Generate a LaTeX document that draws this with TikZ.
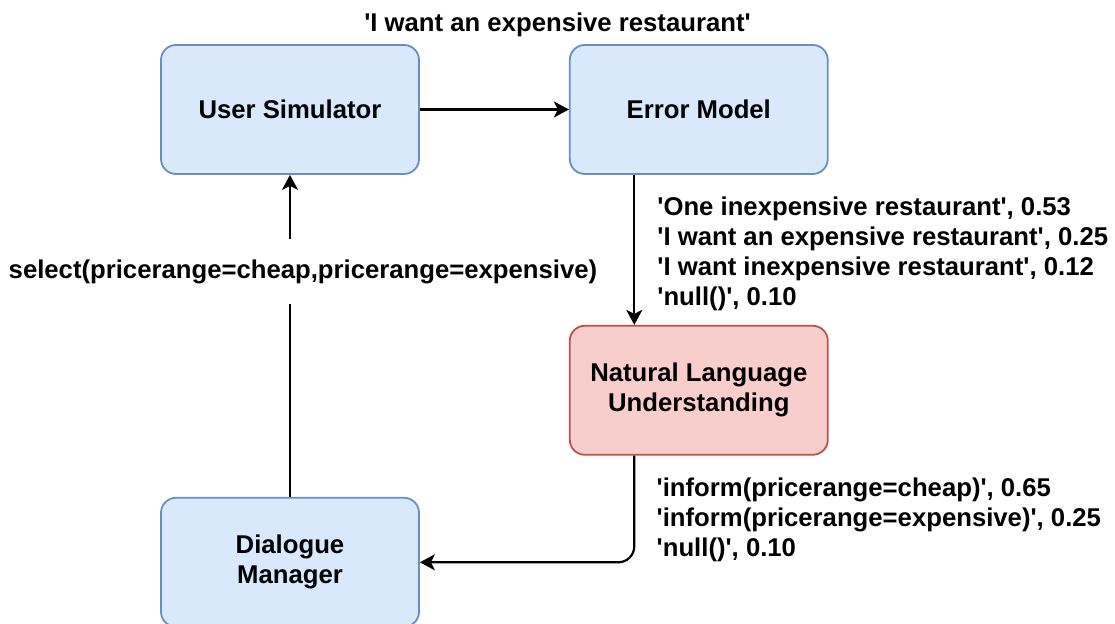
\documentclass[tikz,border=0pt]{standalone}
\usepackage{fontspec}
\setmainfont{Liberation Sans}
\usetikzlibrary{positioning,arrows.meta}
\definecolor{BoxFill}{HTML}{DAE8FC}
\definecolor{BoxDraw}{HTML}{6C8EBF}
\definecolor{NluFill}{HTML}{F8CECC}
\definecolor{NluDraw}{HTML}{B85450}
\newcommand{\sqt}{\textquotesingle}

\begin{document}
\begin{tikzpicture}[font = \fontsize{12.85}{15}\selectfont\bfseries]
        \tikzset{
            BoxStyle/.style = {
                shape = rectangle,
                rounded corners = 7.5pt,
                minimum width = 129pt,
                minimum height = 64.5pt,
                align = center,
                line width = 0.9pt,
                draw = BoxDraw,
                fill = BoxFill},
            EdgeStyle/.style = {
                line width = 1.1pt,
                -{Stealth[length = 7.5pt, width = 8pt, inset = 2pt]}},
            LabelStyle/.style = {
                inner sep = 0pt,
                align = left}
                }
    \useasboundingbox (-145pt,-257.25pt) rectangle (412.5pt,54.75pt);
    \node[BoxStyle] (US) {User Simulator};
    \node[BoxStyle, right = 74.5pt of US] (EM) {Error Model};
    \tikzset{BoxStyle/.append style = {draw = NluDraw, fill = NluFill}}
    \node[BoxStyle, below = 75pt of EM] (NLU) {Natural Language\\Understanding};
    \tikzset{BoxStyle/.append style = {draw = BoxDraw, fill = BoxFill}}
    \node[BoxStyle, below = 161pt of US] (DM) {Dialogue\\Manager};
    \node[anchor = base] (Utterance) at (133.75pt,38.75pt) {\sqt I want an expensive restaurant\sqt};
    \draw[EdgeStyle] (US) -- (EM);
    \draw[EdgeStyle] ([xshift = -32.25pt]EM.south) --
        node[LabelStyle, right = 11pt, yshift = -2pt] (Hypotheses) {\sqt One inexpensive restaurant\sqt, 0.53\\
            \sqt I want an expensive restaurant\sqt, 0.25\\
            \sqt I want inexpensive restaurant\sqt, 0.12\\
            \sqt null()\sqt, 0.10}
        ([xshift = -32.25pt]NLU.north);
    \coordinate (NLUout) at ([xshift = -32.25pt]NLU.south);
    \path (NLUout |- DM.east) coordinate (Bend);
    \draw[EdgeStyle, rounded corners = 8pt] (NLUout) |- (DM.east);
    \node[LabelStyle, anchor = south west, xshift = 11pt] (Acts) at (Bend)
        {\sqt inform(pricerange=cheap)\sqt, 0.65\\
         \sqt inform(pricerange=expensive)\sqt, 0.25\\
         \sqt null()\sqt, 0.10};
    \draw[EdgeStyle] (DM) --
        node[pos = 0.7, xshift = 6.5pt, fill = white, inner xsep = 0pt, inner ysep = 10pt] (Action)
            {select(pricerange=cheap,pricerange=expensive)}
        (US);
    \end{tikzpicture}
\end{document}
